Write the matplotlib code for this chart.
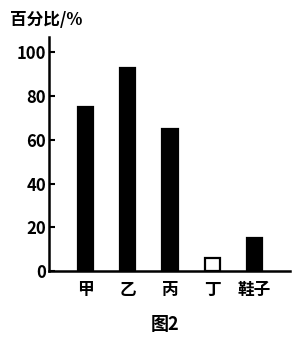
import matplotlib
matplotlib.use("Agg")
import matplotlib.pyplot as plt

plt.rcParams['font.family'] = ['Noto Sans CJK SC', 'DejaVu Sans']

categories = ['甲', '乙', '丙', '丁', '鞋子']
values = [75, 93, 65, 6, 15]
yticks = [0, 20, 40, 60, 80, 100]
face_colors = ['black', 'black', 'black', 'white', 'black']

fig = plt.figure(figsize=(2.92, 3.40), dpi=100)
ax = fig.add_axes([49/292, 1-271/340, (290-49)/292, (271-37)/340])

x = list(range(len(categories)))
ax.bar(x, values, width=0.36, color=face_colors, edgecolor='black', linewidth=1.6)

ax.set_xlim(-0.864, 4.84)
ax.set_ylim(0, 107)
ax.set_yticks(yticks)
ax.set_yticklabels([str(t) for t in yticks], fontsize=12, fontweight='heavy')
ax.set_xticks(x)
ax.set_xticklabels(categories, fontsize=12, fontweight='heavy')
ax.tick_params(axis='x', length=0, pad=7)
ax.tick_params(axis='y', direction='in', length=4, width=1.5, pad=2)

for s in ['top', 'right']:
    ax.spines[s].set_visible(False)
for s in ['left', 'bottom']:
    ax.spines[s].set_linewidth(1.8)

fig.text(10/292, 1-20/340, '百分比/%', fontsize=12, fontweight='heavy', va='center', ha='left')
fig.text(165/292, 1-325/340, '图2', fontsize=13, fontweight='heavy', va='center', ha='center')

fig.savefig('out.png', dpi=100)
